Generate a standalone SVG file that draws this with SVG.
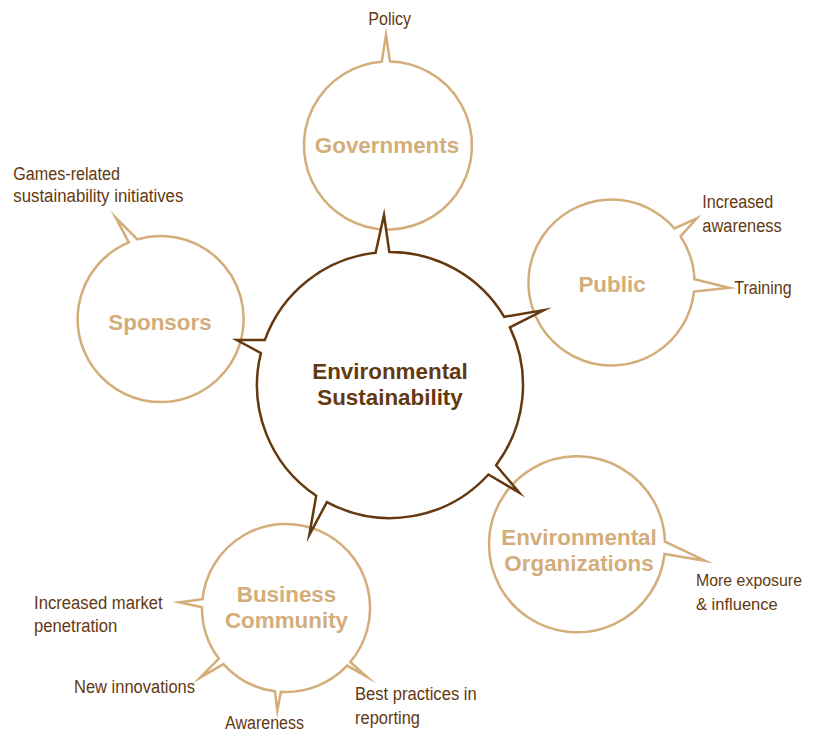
<svg xmlns="http://www.w3.org/2000/svg" width="813" height="732" viewBox="0 0 813 732">
<style>
.bub{fill:#fff;stroke:#d3ad7a;stroke-width:2.5;stroke-linejoin:miter;stroke-miterlimit:20}
.hub{fill:#fff;stroke:#643910;stroke-width:2.5;stroke-linejoin:miter;stroke-miterlimit:20}
.nl{font-family:"Liberation Sans",Arial,sans-serif;font-weight:bold;font-size:22.4px;fill:#d3ad7a;text-anchor:middle}
.cl{font-family:"Liberation Sans",Arial,sans-serif;font-weight:bold;font-size:22.4px;fill:#643910;text-anchor:middle}
.sl{font-family:"Liberation Sans",Arial,sans-serif;font-size:18px;fill:#643910}
.sm{font-size:17px}
</style>
<rect width="813" height="732" fill="#fff"/>
<g id="governments">
<path class="bub" d="M 390.0 61.5 A 84 84 0 1 1 381.8 61.7 L 386 35 Z"/>
<text class="nl" x="387" y="153">Governments</text>
<text class="sl" x="368.3" y="25" textLength="42.7" lengthAdjust="spacingAndGlyphs">Policy</text>
</g>
<g id="public">
<path class="bub" d="M 680.5 236.3 A 83 83 0 0 1 694.4 279.3 L 729.3 287.7 L 694.0 291.6 A 83 83 0 1 1 674.4 228.4 L 696.7 218.3 Z"/>
<text class="nl" x="612" y="292">Public</text>
<text class="sl" x="702.3" y="208" textLength="71" lengthAdjust="spacingAndGlyphs">Increased</text>
<text class="sl" x="702.3" y="232" textLength="79.4" lengthAdjust="spacingAndGlyphs">awareness</text>
<text class="sl" x="734.3" y="294" textLength="57.4" lengthAdjust="spacingAndGlyphs">Training</text>
</g>
<g id="sponsors">
<path class="bub" d="M 137.3 239.4 A 83 83 0 1 1 128.8 242.4 L 115.7 217.7 Z"/>
<text class="nl" x="160" y="330">Sponsors</text>
<text class="sl" x="13.3" y="180" textLength="106.7" lengthAdjust="spacingAndGlyphs">Games-related</text>
<text class="sl" x="13.3" y="202" textLength="170" lengthAdjust="spacingAndGlyphs">sustainability initiatives</text>
</g>
<g id="environmental-organizations">
<path class="bub" d="M 665.0 541.7 L 705 560.7 L 664.5 554.0 A 88 88 0 1 1 665.0 541.7 Z"/>
<text class="nl" x="579" y="545">Environmental</text>
<text class="nl" x="579" y="571">Organizations</text>
<text class="sl sm" x="696" y="586" textLength="106" lengthAdjust="spacingAndGlyphs">More exposure</text>
<text class="sl sm" x="696" y="609.5" textLength="81.7" lengthAdjust="spacingAndGlyphs">&amp; influence</text>
</g>
<g id="business-community">
<path class="bub" d="M 350.3 662.0 L 366.7 676.7 L 347.1 665.6 A 84 84 0 0 1 280.9 691.8 L 277.3 710.7 L 274.9 691.3 A 84 84 0 0 1 223.5 664.1 L 200 677.7 L 218.9 658.6 A 84 84 0 0 1 202.0 607.3 L 179.3 602.3 L 202.5 599.2 A 84 84 0 1 1 350.3 662.0 Z"/>
<text class="nl" x="286.5" y="602">Business</text>
<text class="nl" x="286.5" y="628">Community</text>
<text class="sl" x="34" y="608.5" textLength="128.7" lengthAdjust="spacingAndGlyphs">Increased market</text>
<text class="sl" x="34" y="632" textLength="83.3" lengthAdjust="spacingAndGlyphs">penetration</text>
<text class="sl" x="74" y="692.5" textLength="121" lengthAdjust="spacingAndGlyphs">New innovations</text>
<text class="sl" x="225" y="729" textLength="79" lengthAdjust="spacingAndGlyphs">Awareness</text>
<text class="sl" x="355" y="700" textLength="121.7" lengthAdjust="spacingAndGlyphs">Best practices in</text>
<text class="sl" x="355" y="724" textLength="65" lengthAdjust="spacingAndGlyphs">reporting</text>
</g>
<g id="connectors">
<g id="environmental-sustainability">
<path class="hub" d="M 375.6 252.8 L 384 215 L 389.3 252.0 A 133 133 0 0 1 504.2 316.8 L 544 310 L 509.9 327.4 A 133 133 0 0 1 496.1 465.2 L 519.3 492.7 L 488.4 474.5 A 133 133 0 0 1 326.9 502.1 L 309.3 535 L 316.2 495.7 A 133 133 0 0 1 260.9 353.1 L 236.7 340 L 264.9 339.9 A 133 133 0 0 1 375.6 252.8 Z"/>
<text class="cl" x="390" y="379">Environmental</text>
<text class="cl" x="390" y="405">Sustainability</text>
</g>
</g>
</svg>
